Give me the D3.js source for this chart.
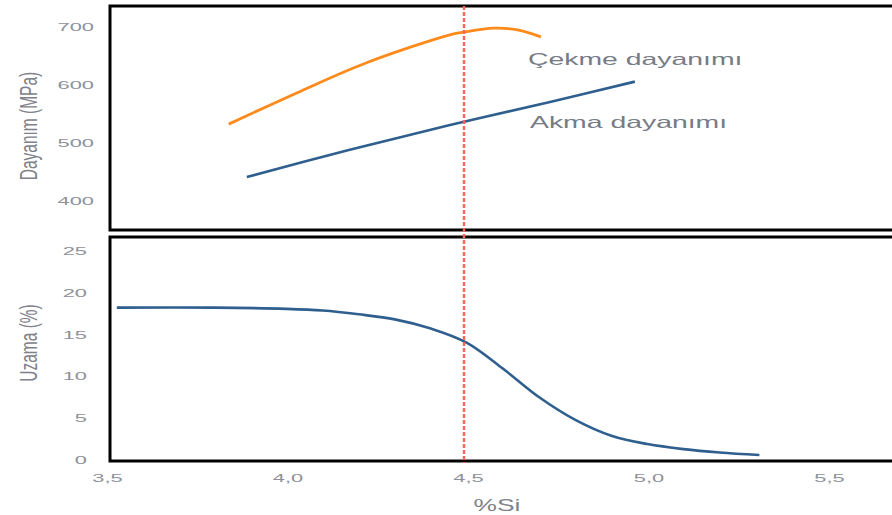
<!DOCTYPE html>
<html>
<head>
<meta charset="utf-8">
<script src="https://d3js.org/d3.v7.min.js"></script>
<style>
  body { margin: 0; background: #fff; }
  text { font-family: "Liberation Sans", Arial, sans-serif; }
  .tick text { fill: #8e9199; font-size: 11.5px; }
  .ytitle { fill: #7f828a; font-size: 15.5px; }
  .series_label { fill: #767b86; font-size: 16.5px; }
  .frame { fill: none; stroke: #000; stroke-width: 3; }
</style>
</head>
<body>
<svg id="chart" width="892" height="515"></svg>
<script>
  // tensile strength (Çekme dayanımı) vs %Si
  const cekmeSi = [3.84, 4.03, 4.22, 4.45, 4.49, 4.575, 4.64, 4.705]
  const cekmeMPa = [532, 586, 637, 685, 690, 697, 694, 682]
  // yield strength (Akma dayanımı)
  const akmaSi = [3.89, 4.17, 4.45, 4.73, 4.965]
  const akmaMPa = [441, 487, 530, 570, 605]
  // elongation (Uzama)
  const uzamaSi = [3.53, 3.8, 4.0, 4.1, 4.2, 4.3, 4.4, 4.5, 4.6, 4.7, 4.8, 4.9, 5.0, 5.1, 5.2, 5.31]
  const uzamaPct = [18.2, 18.2, 18.05, 17.85, 17.4, 16.8, 15.7, 14.0, 10.9, 7.5, 4.8, 2.9, 1.9, 1.3, 0.9, 0.6]

  const xTicks = [3.5, 4.0, 4.5, 5.0, 5.5]
  const topTicks = [400, 500, 600, 700]
  const bottomTicks = [0, 5, 10, 15, 20, 25]
  const markerSi = 4.5

  const svg = d3.select("#chart")
  const x = d3.scaleLinear().domain([3.5, 5.5]).range([106, 828])
  const yTop = d3.scaleLinear().domain([350, 735]).range([230, 6])
  const yBot = d3.scaleLinear().domain([0, 25]).range([460, 250.7])

  const commaFmt = d => d3.format(".1f")(d).replace(".", ",")

  // frames (right side runs off the picture)
  svg.append("rect").attr("class", "frame").attr("x", 110).attr("y", 6).attr("width", 800).attr("height", 224)
  svg.append("rect").attr("class", "frame").attr("x", 110).attr("y", 237).attr("width", 800).attr("height", 224)

  // y axes
  const gTop = svg.append("g").attr("transform", "translate(94,0)")
    .call(d3.axisLeft(yTop).tickValues(topTicks).tickSize(0).tickPadding(0))
  const gBot = svg.append("g").attr("transform", "translate(87,0)")
    .call(d3.axisLeft(yBot).tickValues(bottomTicks).tickSize(0).tickPadding(0))
  gTop.select(".domain").remove()
  gBot.select(".domain").remove()

  // x axis
  const gx = svg.append("g").attr("transform", "translate(1,470)")
    .call(d3.axisBottom(x).tickValues(xTicks).tickFormat(commaFmt).tickSize(0).tickPadding(4))
  gx.select(".domain").remove()

  // the picture is stretched sideways, so the text is too
  svg.selectAll(".tick text")
    .style("font-family", "Liberation Sans, Arial, sans-serif")
    .attr("transform", "scale(1.9,1)")

  // axis titles
  svg.append("text").attr("class", "ytitle")
    .attr("transform", "translate(37,126) rotate(-90) scale(1,1.6)")
    .attr("text-anchor", "middle").text("Dayanım (MPa)")
  svg.append("text").attr("class", "ytitle")
    .attr("transform", "translate(37,343) rotate(-90) scale(1,1.6)")
    .attr("text-anchor", "middle").text("Uzama (%)")
  svg.append("text").attr("class", "ytitle")
    .attr("transform", "translate(497,511) scale(1.6,1)")
    .attr("text-anchor", "middle").style("font-size", "16.5px").text("%Si")

  const line = (xs, ys, yScale) => d3.line()
    .x((d, i) => x(xs[i])).y(d => yScale(d)).curve(d3.curveCatmullRom.alpha(0.5))

  svg.append("path").datum(cekmeMPa)
    .attr("fill", "none").attr("stroke", "#ff8a1c").attr("stroke-width", 2.8)
    .attr("d", line(cekmeSi, cekmeMPa, yTop))
  svg.append("path").datum(akmaMPa)
    .attr("fill", "none").attr("stroke", "#2f5f8e").attr("stroke-width", 2.6)
    .attr("d", line(akmaSi, akmaMPa, yTop))
  svg.append("path").datum(uzamaPct)
    .attr("fill", "none").attr("stroke", "#2f5f8e").attr("stroke-width", 2.6)
    .attr("d", line(uzamaSi, uzamaPct, yBot))

  // series labels
  svg.append("text").attr("class", "series_label")
    .attr("transform", "translate(528,65) scale(1.72,1)").text("Çekme dayanımı")
  svg.append("text").attr("class", "series_label")
    .attr("transform", "translate(530,128) scale(1.72,1)").text("Akma dayanımı")

  // dashed marker at 4.5 %Si
  svg.append("line")
    .attr("x1", x(markerSi) - 3).attr("x2", x(markerSi) - 3)
    .attr("y1", 6).attr("y2", 463)
    .attr("stroke", "#ff6157").attr("stroke-width", 2.4)
    .attr("stroke-dasharray", "4,2")
</script>
</body>
</html>
